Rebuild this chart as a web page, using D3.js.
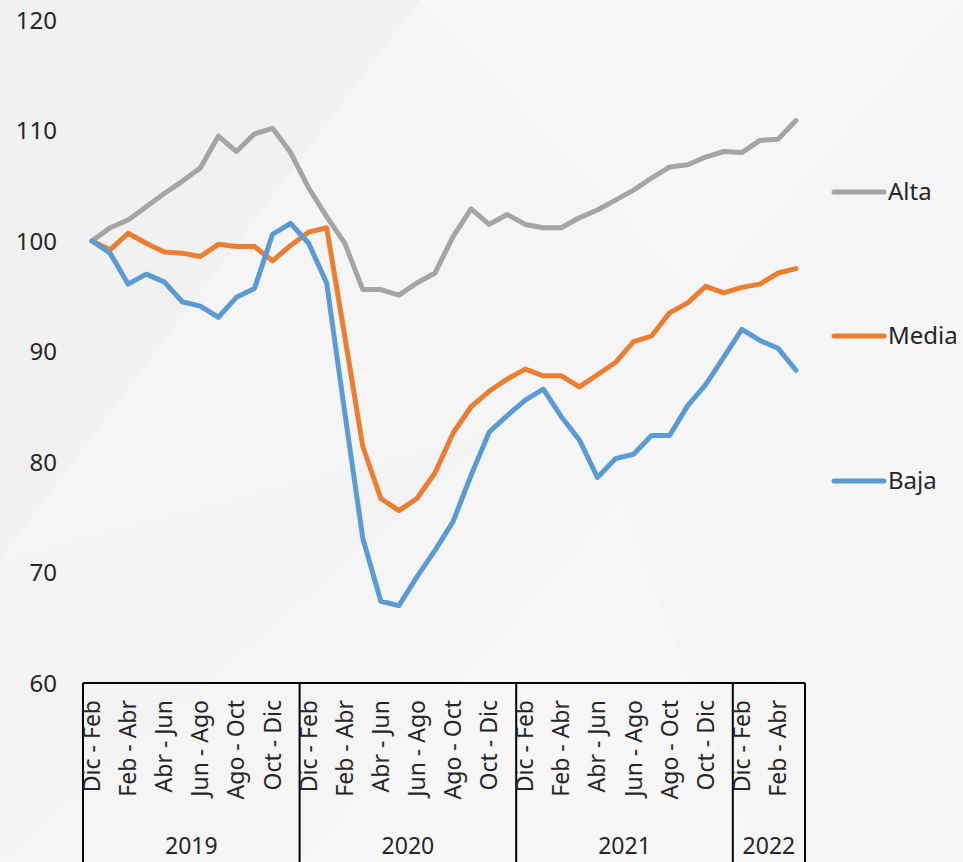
<!DOCTYPE html>
<meta charset="utf-8">
<head>
<title>indices por nivel</title>
<script src="https://cdn.jsdelivr.net/npm/d3@7"></script>
<style>
  body { margin: 0; background: #f4f4f4; }
  svg { display: block; font-family: "Noto Sans", sans-serif; }
</style>
</head>
<body>

<div id="chart"></div>

<script>

const width = 963;
const height = 862;

// bimonthly periods, repeated per year
const periods = ["Dic - Feb", "Ene - Mar", "Feb - Abr", "Mar - May", "Abr - Jun", "May - Jul",
                 "Jun - Ago", "Jul - Sep", "Ago - Oct", "Sep - Nov", "Oct - Dic", "Nov - Ene"];
const years = ["2019", "2020", "2021", "2022"];
const periodsPerYear = [12, 12, 12, 4];

const alta = [100, 101.2, 101.9, 103.1, 104.3, 105.4, 106.6, 109.5, 108.1, 109.7, 110.2, 108.0,
              104.8, 102.2, 99.8, 95.6, 95.6, 95.1, 96.2, 97.1, 100.4, 102.9, 101.5, 102.4,
              101.5, 101.2, 101.2, 102.1, 102.8, 103.7, 104.6, 105.7, 106.7, 106.9, 107.6, 108.1,
              108.0, 109.1, 109.2, 110.9];
const media = [100, 99.2, 100.7, 99.8, 99.0, 98.9, 98.6, 99.7, 99.5, 99.5, 98.2, 99.6,
               100.8, 101.2, 91.4, 81.4, 76.7, 75.6, 76.7, 79.0, 82.6, 85.0, 86.4, 87.5,
               88.4, 87.8, 87.8, 86.8, 87.9, 89.0, 90.9, 91.4, 93.5, 94.4, 95.9, 95.3,
               95.8, 96.1, 97.1, 97.5];
const baja = [100, 98.9, 96.1, 97.0, 96.3, 94.5, 94.1, 93.1, 94.9, 95.7, 100.6, 101.6,
              99.8, 96.2, 84.5, 73.1, 67.4, 67.0, 69.6, 72.0, 74.6, 78.8, 82.7, 84.2,
              85.6, 86.6, 84.1, 82.0, 78.6, 80.3, 80.7, 82.4, 82.4, 85.1, 87.0, 89.5,
              92.0, 91.0, 90.3, 88.3];

const seriesNames = ["Alta", "Media", "Baja"];
const seriesColors = ["#a5a5a5", "#ed7d31", "#5b9bd5"];
const yTicks = [60, 70, 80, 90, 100, 110, 120];

// build the category list
const cats = [];
years.forEach((yr, k) => {
  for (let j = 0; j < periodsPerYear[k]; j++) cats.push({ key: yr + "-" + j, label: periods[j], idx: j, year: yr });
});

const margin = { left: 83, right: 158, top: 20, bottom: 179 };

const x = d3.scaleBand()
  .domain(cats.map(d => d.key))
  .range([margin.left, width - margin.right]);

const y = d3.scaleLinear()
  .domain([60, 120])
  .range([height - margin.bottom, margin.top]);

const svg = d3.select("#chart")
  .append("svg")
  .attr("width", width)
  .attr("height", height)
  .attr("viewBox", [0, 0, width, height]);

// soft faceted background
svg.append("rect").attr("width", width).attr("height", height).attr("fill", "#f5f5f5");
const facets = [
  [[0, 0], [420, 0], [0, 560], "#f1f1f1"],
  [[420, 0], [963, 0], [700, 300], "#f7f7f7"],
  [[0, 560], [500, 430], [0, 862], "#f3f3f3"],
  [[500, 430], [963, 300], [963, 862], "#f6f6f6"],
  [[300, 862], [620, 500], [760, 862], "#f7f7f7"]
];
svg.append("g")
  .selectAll("path")
  .data(facets)
  .join("path")
    .attr("d", d => `M${d[0]}L${d[1]}L${d[2]}Z`)
    .attr("fill", d => d[3]);

// y axis labels
svg.append("g")
  .selectAll("text")
  .data(yTicks)
  .join("text")
    .attr("x", 57)
    .attr("y", d => y(d))
    .attr("dy", "0.36em")
    .attr("text-anchor", "end")
    .attr("font-size", 24)
    .attr("fill", "#262626")
    .text(d => d);

// lines
const line = d3.line()
  .x((d, i) => x(cats[i].key) + x.bandwidth() / 2)
  .y(d => y(d));

const allSeries = [alta, media, baja];

svg.append("g")
  .selectAll("path")
  .data(allSeries)
  .join("path")
    .attr("d", line)
    .attr("fill", "none")
    .attr("stroke", (d, i) => seriesColors[i])
    .attr("stroke-width", 5)
    .attr("stroke-linejoin", "round")
    .attr("stroke-linecap", "round");

// category axis, Excel-style grouped
const axisY = y(60);
const ax = svg.append("g").attr("stroke", "#000").attr("stroke-width", 2);
ax.append("line")
  .attr("x1", margin.left).attr("x2", width - margin.right)
  .attr("y1", axisY).attr("y2", axisY);

// year boundaries
const bounds = [margin.left];
let acc = 0;
periodsPerYear.forEach(n => { acc += n; bounds.push(x(cats[acc - 1].key) + x.bandwidth()); });
ax.selectAll(".sep")
  .data(bounds)
  .join("line")
    .attr("x1", d => d).attr("x2", d => d)
    .attr("y1", axisY).attr("y2", height);

svg.append("g")
  .selectAll("text")
  .data(cats.filter(d => d.idx % 2 === 0))
  .join("text")
    .attr("transform", d => `translate(${x(d.key) + x.bandwidth() / 2},${axisY + 17}) rotate(-90)`)
    .attr("dy", "0.35em")
    .attr("text-anchor", "end")
    .attr("font-size", 23)
    .attr("fill", "#262626")
    .text(d => d.label);

svg.append("g")
  .selectAll("text")
  .data(years)
  .join("text")
    .attr("x", (d, i) => (bounds[i] + bounds[i + 1]) / 2)
    .attr("y", 854)
    .attr("text-anchor", "middle")
    .attr("font-size", 23)
    .attr("fill", "#262626")
    .text(d => d);

// legend
const legendY = [192, 336, 481];
const lg = svg.append("g")
  .selectAll("g")
  .data(seriesNames)
  .join("g")
    .attr("transform", (d, i) => `translate(834,${legendY[i]})`);
lg.append("line")
  .attr("x1", 0).attr("x2", 50)
  .attr("stroke", (d, i) => seriesColors[i])
  .attr("stroke-width", 5)
  .attr("stroke-linecap", "round");
lg.append("text")
  .attr("x", 54)
  .attr("dy", "0.35em")
  .attr("font-size", 24)
  .attr("fill", "#262626")
  .text(d => d);

</script>

</body>
